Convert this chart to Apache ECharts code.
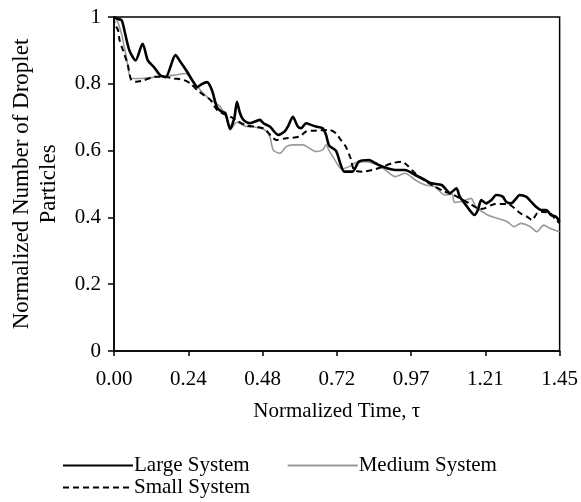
<!DOCTYPE html>
<html>
<head>
<meta charset="utf-8">
<script src="https://cdn.jsdelivr.net/npm/echarts@6/dist/echarts.min.js"></script>
<style>
  html, body { margin: 0; padding: 0; background: #fff; }
  #chart { width: 581px; height: 502px; }
</style>
</head>
<body>
<div id="chart"></div>
<script>
// ---- Data (normalized time, normalized number of droplet particles) ----
const largeSystem = [
  [0, 1.0], [0.01, 0.995], [0.025, 0.99], [0.035, 0.955], [0.05, 0.90], [0.07, 0.87],
  [0.093, 0.92], [0.11, 0.87], [0.13, 0.85], [0.15, 0.826], [0.168, 0.82], [0.20, 0.886],
  [0.216, 0.866], [0.238, 0.836], [0.255, 0.81], [0.271, 0.79], [0.287, 0.80], [0.303, 0.805],
  [0.319, 0.78], [0.335, 0.73], [0.351, 0.716], [0.362, 0.713], [0.378, 0.665], [0.392, 0.70],
  [0.40, 0.746], [0.41, 0.712], [0.421, 0.692], [0.442, 0.682], [0.475, 0.692], [0.486, 0.682],
  [0.507, 0.672], [0.534, 0.647], [0.555, 0.657], [0.566, 0.672], [0.582, 0.701], [0.598, 0.672],
  [0.609, 0.667], [0.625, 0.682], [0.641, 0.677], [0.657, 0.672], [0.679, 0.667], [0.69, 0.647],
  [0.70, 0.615], [0.722, 0.60], [0.738, 0.557], [0.749, 0.537], [0.776, 0.537], [0.797, 0.567],
  [0.829, 0.572], [0.851, 0.562], [0.88, 0.55], [0.915, 0.542], [0.947, 0.542], [0.98, 0.527],
  [1.012, 0.512], [1.033, 0.502], [1.066, 0.497], [1.087, 0.477], [1.092, 0.472], [1.114, 0.487],
  [1.125, 0.462], [1.141, 0.442], [1.157, 0.422], [1.173, 0.407], [1.184, 0.422], [1.195, 0.452],
  [1.211, 0.442], [1.228, 0.452], [1.244, 0.467], [1.265, 0.462], [1.276, 0.447], [1.292, 0.442],
  [1.309, 0.457], [1.319, 0.467], [1.341, 0.462], [1.357, 0.447], [1.373, 0.432], [1.39, 0.422],
  [1.406, 0.422], [1.422, 0.407], [1.438, 0.402], [1.45, 0.387]
];
const mediumSystem = [
  [0, 1.0], [0.01, 0.99], [0.024, 0.951], [0.04, 0.881], [0.056, 0.816], [0.088, 0.816],
  [0.142, 0.821], [0.196, 0.826], [0.233, 0.831], [0.255, 0.811], [0.281, 0.781], [0.303, 0.761],
  [0.324, 0.746], [0.346, 0.731], [0.367, 0.697], [0.378, 0.662], [0.40, 0.685], [0.43, 0.672],
  [0.46, 0.67], [0.49, 0.662], [0.507, 0.642], [0.518, 0.602], [0.539, 0.592], [0.561, 0.612],
  [0.582, 0.617], [0.615, 0.617], [0.636, 0.607], [0.657, 0.597], [0.679, 0.602], [0.69, 0.617],
  [0.70, 0.60], [0.72, 0.57], [0.74, 0.545], [0.765, 0.552], [0.79, 0.565], [0.818, 0.567],
  [0.85, 0.56], [0.883, 0.542], [0.915, 0.522], [0.947, 0.532], [0.98, 0.512], [1.012, 0.497],
  [1.044, 0.492], [1.076, 0.467], [1.10, 0.47], [1.108, 0.445], [1.14, 0.45], [1.162, 0.457],
  [1.178, 0.432], [1.216, 0.407], [1.248, 0.397], [1.28, 0.387], [1.302, 0.372], [1.323, 0.382],
  [1.355, 0.372], [1.376, 0.357], [1.398, 0.377], [1.42, 0.367], [1.45, 0.357]
];
const smallSystem = [
  [0, 1.0], [0.002, 0.981], [0.013, 0.961], [0.018, 0.931], [0.029, 0.901], [0.045, 0.856],
  [0.056, 0.811], [0.072, 0.806], [0.099, 0.811], [0.131, 0.821], [0.163, 0.821], [0.196, 0.816],
  [0.228, 0.811], [0.249, 0.801], [0.271, 0.781], [0.292, 0.766], [0.314, 0.751], [0.335, 0.722],
  [0.351, 0.712], [0.378, 0.702], [0.40, 0.69], [0.43, 0.675], [0.46, 0.672], [0.49, 0.665],
  [0.51, 0.645], [0.528, 0.632], [0.561, 0.637], [0.604, 0.642], [0.625, 0.657], [0.66, 0.66],
  [0.70, 0.662], [0.722, 0.652], [0.738, 0.632], [0.754, 0.612], [0.77, 0.577], [0.781, 0.542],
  [0.808, 0.537], [0.84, 0.542], [0.87, 0.55], [0.904, 0.562], [0.937, 0.567], [0.953, 0.557],
  [0.98, 0.532], [1.017, 0.507], [1.044, 0.492], [1.076, 0.477], [1.10, 0.47], [1.13, 0.455],
  [1.16, 0.44], [1.19, 0.425], [1.205, 0.427], [1.24, 0.44], [1.28, 0.44], [1.323, 0.412],
  [1.344, 0.402], [1.36, 0.392], [1.376, 0.412], [1.39, 0.417], [1.42, 0.412], [1.438, 0.392],
  [1.45, 0.383]
];
const xTickLabels = ['0.00', '0.24', '0.48', '0.72', '0.97', '1.21', '1.45'];
const yTickLabels = ['0', '0.2', '0.4', '0.6', '0.8', '1'];
const seriesNames = ['Large System', 'Medium System', 'Small System'];

const FONT = 'Liberation Serif';
const xMax = 1.45;
const xStep = xMax / 6;

const legendCommon = {
  orient: 'horizontal', padding: 0,
  itemWidth: 70, itemHeight: 10, itemGap: 37,
  itemStyle: { color: 'transparent', borderWidth: 0, opacity: 0 },
  textStyle: { fontFamily: FONT, fontSize: 21, color: '#000', padding: [0, 0, 0, -4] }
};

const chart = echarts.init(document.getElementById('chart'), null, { renderer: 'canvas' });
chart.setOption({
  backgroundColor: '#ffffff',
  animation: false,
  grid: {
    left: 111, right: 20, top: 17, bottom: 151,
    show: true, borderColor: '#000', borderWidth: 1.5, backgroundColor: 'transparent'
  },
  legend: [
    Object.assign({ data: [seriesNames[0], seriesNames[1]], left: 62, top: 455 }, legendCommon),
    Object.assign({ data: [seriesNames[2]], left: 62, top: 477 }, legendCommon)
  ],
  xAxis: {
    type: 'value', min: 0, max: xMax, interval: xStep,
    name: 'Normalized Time, τ', nameLocation: 'middle', nameGap: 50,
    nameTextStyle: { fontFamily: FONT, fontSize: 21, color: '#000' },
    axisLine: { show: true, onZero: false, lineStyle: { color: '#000', width: 1.5 } },
    axisTick: { show: true, inside: false, length: 5, lineStyle: { color: '#000', width: 1.5 } },
    axisLabel: {
      fontFamily: FONT, fontSize: 21, color: '#000', margin: 18,
      showMinLabel: true, showMaxLabel: true,
      formatter: v => xTickLabels[Math.round(v / xStep)]
    },
    splitLine: { show: false }
  },
  yAxis: {
    type: 'value', min: 0, max: 1, interval: 0.2,
    name: 'Normalized Number of Droplet\nParticles', nameLocation: 'middle', nameGap: 52,
    nameRotate: 90,
    nameTextStyle: { fontFamily: FONT, fontSize: 23, color: '#000', lineHeight: 27, align: 'center' },
    axisLine: { show: true, lineStyle: { color: '#000', width: 1.5 } },
    axisTick: { show: true, inside: false, length: 6, lineStyle: { color: '#000', width: 1.5 } },
    axisLabel: {
      fontFamily: FONT, fontSize: 21, color: '#000', margin: 13,
      formatter: v => yTickLabels[Math.round(v / 0.2)]
    },
    splitLine: { show: false }
  },
  series: [
    {
      name: seriesNames[0], type: 'line', data: largeSystem, symbol: 'none', smooth: 0.25,
      lineStyle: { color: '#000', width: 2.6 }, itemStyle: { color: '#000' }, z: 4
    },
    {
      name: seriesNames[1], type: 'line', data: mediumSystem, symbol: 'none', smooth: 0.25,
      lineStyle: { color: '#999', width: 1.6 }, itemStyle: { color: '#999' }, z: 2
    },
    {
      name: seriesNames[2], type: 'line', data: smallSystem, symbol: 'none', smooth: 0.25,
      lineStyle: { color: '#000', width: 2, type: [6, 4] }, itemStyle: { color: '#000' }, z: 3
    }
  ]
});
</script>
</body>
</html>
